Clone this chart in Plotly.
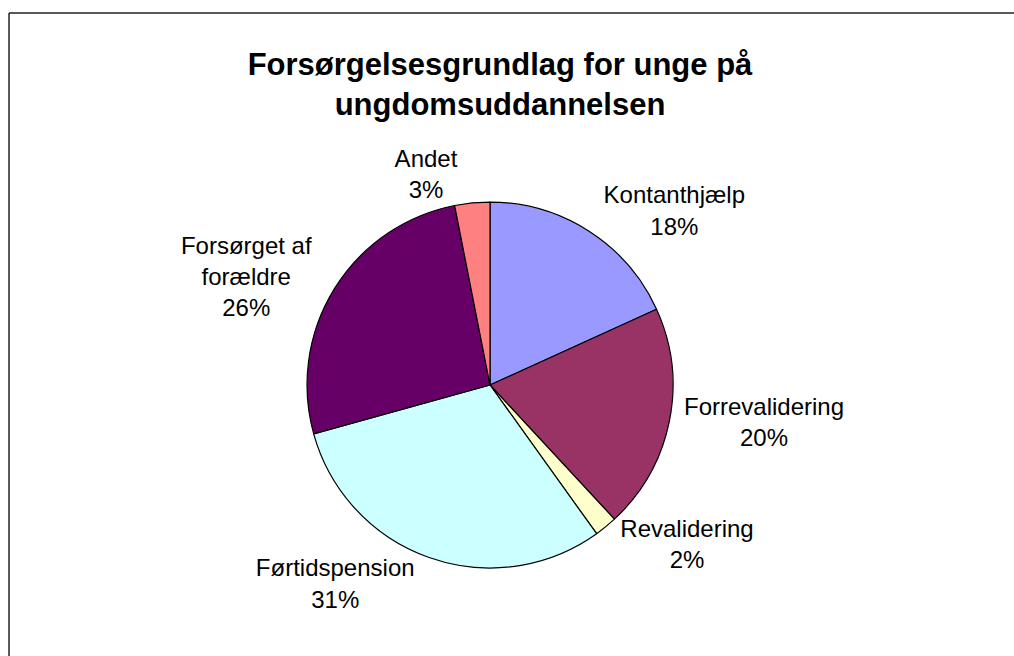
import plotly.graph_objects as go

labels = ['Kontanthjælp', 'Forrevalidering', 'Revalidering', 'Førtidspension',
          'Forsørget af<br>forældre', 'Andet']
values = [18.2, 19.9, 2.0, 30.6, 26.2, 3.1]
colors = ['#9999FF', '#993366', '#FFFFCC', '#CCFFFF', '#660066', '#FF8080']

W, H = 1014, 656

fig = go.Figure(go.Pie(
    labels=labels,
    values=values,
    sort=False,
    direction='clockwise',
    rotation=0,
    marker=dict(colors=colors, line=dict(color='black', width=1.2)),
    textposition='outside',
    texttemplate='%{label}<br>%{percent:.0%}',
    textfont=dict(family='Liberation Sans, Arial', size=24, color='black'),
    showlegend=False,
    hoverinfo='label+percent',
    domain=dict(x=[0.3028, 0.6637], y=[0.1341, 0.6921]),
))

# chart frame: only the left and top edges fall inside the picture
frame = dict(color='#222222', width=1.5)

fig.update_layout(
    width=W, height=H,
    margin=dict(l=0, r=0, t=0, b=0),
    paper_bgcolor='white',
    title=dict(
        text='<b>Forsørgelsesgrundlag for unge på<br>ungdomsuddannelsen</b>',
        x=0.4931, y=0.8857, xanchor='center', yanchor='middle',
        font=dict(family='Liberation Sans, Arial', size=31, color='black'),
    ),
    shapes=[
        dict(type='line', xref='paper', yref='paper',
             x0=0.0089, x1=0.0089, y0=0, y1=0.9802, line=frame),
        dict(type='line', xref='paper', yref='paper',
             x0=0.0089, x1=1, y0=0.9802, y1=0.9802, line=frame),
    ],
)

# drop the default body margin so the figure fills the window exactly
fig.write_html('out.html', config={'staticPlot': True},
               post_script="document.body.style.margin='0';document.body.style.overflow='hidden';")
